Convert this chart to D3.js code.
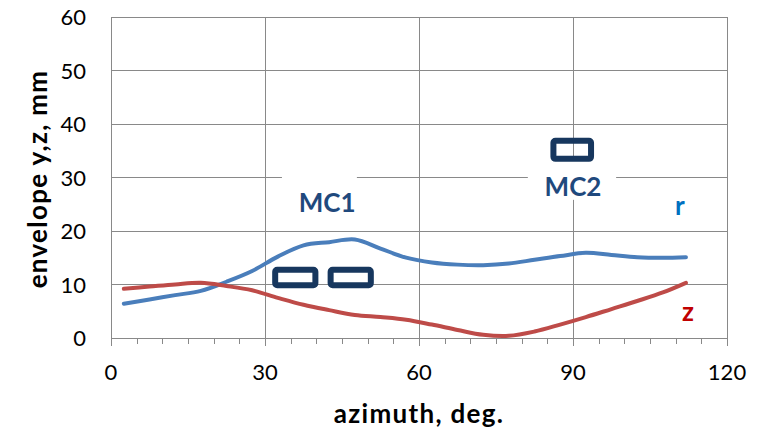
<!DOCTYPE html>
<html>
<head>
<meta charset="utf-8">
<script src="https://cdn.jsdelivr.net/npm/d3@7"></script>
<style>
  html, body { margin: 0; padding: 0; background: #fff; }
  svg { display: block; }
  text { font-family: Lato, "Open Sans", sans-serif; }
</style>
</head>
<body>
<svg id="chart" width="771" height="432"></svg>
<script>
// Beam envelope versus azimuth
const azimuthR = [2.5, 7.5, 12.5, 17.5, 22.5, 27.5, 32.5, 37.5, 42.5, 47.5, 52.5, 57.5, 62.5, 67.5, 72.5, 77.5, 82.5, 87.5, 92.5, 97.5, 102.5, 107.5, 112];
const envelopeR = [6.5, 7.3, 8.1, 8.9, 10.6, 12.6, 15.3, 17.4, 18.0, 18.5, 16.8, 15.1, 14.2, 13.8, 13.7, 14.0, 14.7, 15.4, 16.0, 15.6, 15.2, 15.1, 15.2];
const azimuthZ = [2.5, 7.5, 12.5, 17.5, 22.5, 27.5, 32.5, 37.5, 42.5, 47.5, 52.5, 57.5, 62.5, 67.5, 72.5, 77.5, 82.5, 87.5, 92.5, 97.5, 102.5, 107.5, 112];
const envelopeZ = [9.3, 9.7, 10.1, 10.4, 9.8, 9.0, 7.6, 6.3, 5.3, 4.4, 4.0, 3.5, 2.6, 1.6, 0.7, 0.5, 1.3, 2.6, 4.0, 5.5, 7.0, 8.6, 10.4];

const xTicks = [0, 30, 60, 90, 120];
const yTicks = [0, 10, 20, 30, 40, 50, 60];
const xMinorTicks = d3.range(0, 121, 5);

// Magnet outlines (azimuth range, envelope range)
const magnets = [
  { x0: 31.4, x1: 40.4, y0: 9.4, y1: 13.4 },
  { x0: 42.2, x1: 51.2, y0: 9.4, y1: 13.4 },
  { x0: 85.6, x1: 94.1, y0: 33.0, y1: 37.5 }
];
// Magnet labels with their white backing boxes
const magnetLabels = [
  { text: "MC1", x: 42.1, y: 25.3, bx0: 33.3, bx1: 47.9, by0: 21.8, by1: 30.3 },
  { text: "MC2", x: 90, y: 28.3, bx0: 81.2, bx1: 98.4, by0: 25.9, by1: 33.4 }
];
// Series labels
const seriesLabels = [
  { text: "r", x: 110.8, y: 24.8, color: "#0070C0" },
  { text: "z", x: 112.4, y: 5.1, color: "#C00000" }
];

const svg = d3.select("#chart");
const plotLeft = 111, plotRight = 727, plotTop = 17.3, plotBottom = 338.5;

const x = d3.scaleLinear().domain([0, 120]).range([plotLeft, plotRight]);
const y = d3.scaleLinear().domain([0, 60]).range([plotBottom, plotTop]);

const gridColor = "#898989";

// horizontal gridlines
svg.append("g").selectAll("line").data(yTicks.filter(d => d > 0)).join("line")
  .attr("x1", plotLeft).attr("x2", plotRight)
  .attr("y1", d => y(d)).attr("y2", d => y(d))
  .attr("stroke", gridColor).attr("stroke-width", 1)
  .attr("shape-rendering", "crispEdges");

// vertical gridlines
svg.append("g").selectAll("line").data(xTicks.filter(d => d > 0)).join("line")
  .attr("x1", d => x(d)).attr("x2", d => x(d))
  .attr("y1", plotTop).attr("y2", plotBottom)
  .attr("stroke", gridColor).attr("stroke-width", 1)
  .attr("shape-rendering", "crispEdges");

// axes
const xAxis = svg.append("g").attr("transform", `translate(0,${plotBottom})`);
xAxis.call(d3.axisBottom(x).tickValues(xMinorTicks).tickSize(5).tickFormat(""));
xAxis.select(".domain").remove();
xAxis.selectAll("line").attr("stroke", gridColor).attr("shape-rendering", "crispEdges");
xAxis.selectAll(".tick").filter(d => d % 30 === 0).select("line").attr("y2", 7);

svg.append("line").attr("x1", plotLeft).attr("x2", plotRight).attr("y1", plotBottom).attr("y2", plotBottom)
  .attr("stroke", gridColor).attr("shape-rendering", "crispEdges");
svg.append("line").attr("x1", plotLeft).attr("x2", plotLeft).attr("y1", plotTop).attr("y2", plotBottom)
  .attr("stroke", gridColor).attr("shape-rendering", "crispEdges");

// tick labels
svg.append("g").selectAll("text").data(xTicks).join("text")
  .attr("x", d => x(d)).attr("y", 380)
  .attr("text-anchor", "middle")
  .attr("font-size", 22).attr("fill", "#000")
  .text(d => d);

svg.append("g").selectAll("text").data(yTicks).join("text")
  .attr("x", 86).attr("y", d => y(d))
  .attr("dy", "0.35em")
  .attr("text-anchor", "end")
  .attr("font-size", 22).attr("fill", "#000")
  .text(d => d);

// axis titles
svg.append("text")
  .attr("x", 419).attr("y", 423)
  .attr("text-anchor", "middle")
  .attr("font-size", 26).attr("font-weight", "bold")
  .attr("letter-spacing", 1.3)
  .text("azimuth, deg.");

svg.append("text")
  .attr("transform", "translate(47,179) rotate(-90)")
  .attr("text-anchor", "middle")
  .attr("font-size", 26).attr("font-weight", "bold")
  .attr("letter-spacing", 1.3)
  .text("envelope y,z, mm");

// white boxes behind magnet labels
svg.append("g").selectAll("rect").data(magnetLabels).join("rect")
  .attr("x", d => x(d.bx0)).attr("width", d => x(d.bx1) - x(d.bx0))
  .attr("y", d => y(d.by1)).attr("height", d => y(d.by0) - y(d.by1))
  .attr("fill", "#fff");

// envelope curves
const line = d3.line().x(d => x(d[0])).y(d => y(d[1])).curve(d3.curveCatmullRom.alpha(0.5));

svg.append("path")
  .datum(d3.zip(azimuthR, envelopeR))
  .attr("d", line)
  .attr("fill", "none").attr("stroke", "#4A7EBB").attr("stroke-width", 4)
  .attr("stroke-linecap", "round").attr("stroke-linejoin", "round");

svg.append("path")
  .datum(d3.zip(azimuthZ, envelopeZ))
  .attr("d", line)
  .attr("fill", "none").attr("stroke", "#BE4B48").attr("stroke-width", 4)
  .attr("stroke-linecap", "round").attr("stroke-linejoin", "round");

// magnet outlines
const sw = 6;
svg.append("g").selectAll("rect").data(magnets).join("rect")
  .attr("x", d => x(d.x0) + sw / 2).attr("width", d => x(d.x1) - x(d.x0) - sw)
  .attr("y", d => y(d.y1) + sw / 2).attr("height", d => y(d.y0) - y(d.y1) - sw)
  .attr("rx", 2)
  .attr("fill", "none").attr("stroke", "#17375E").attr("stroke-width", sw);

// magnet labels
svg.append("g").selectAll("text").data(magnetLabels).join("text")
  .attr("x", d => x(d.x)).attr("y", d => y(d.y))
  .attr("dy", "0.36em")
  .attr("text-anchor", "middle")
  .attr("font-size", 26).attr("font-weight", "bold").attr("fill", "#1F497D")
  .text(d => d.text);

// series labels
svg.append("g").selectAll("text").data(seriesLabels).join("text")
  .attr("x", d => x(d.x)).attr("y", d => y(d.y))
  .attr("dy", "0.36em")
  .attr("text-anchor", "middle")
  .attr("font-size", 26).attr("font-weight", "bold").attr("fill", d => d.color)
  .text(d => d.text);
</script>
</body>
</html>
